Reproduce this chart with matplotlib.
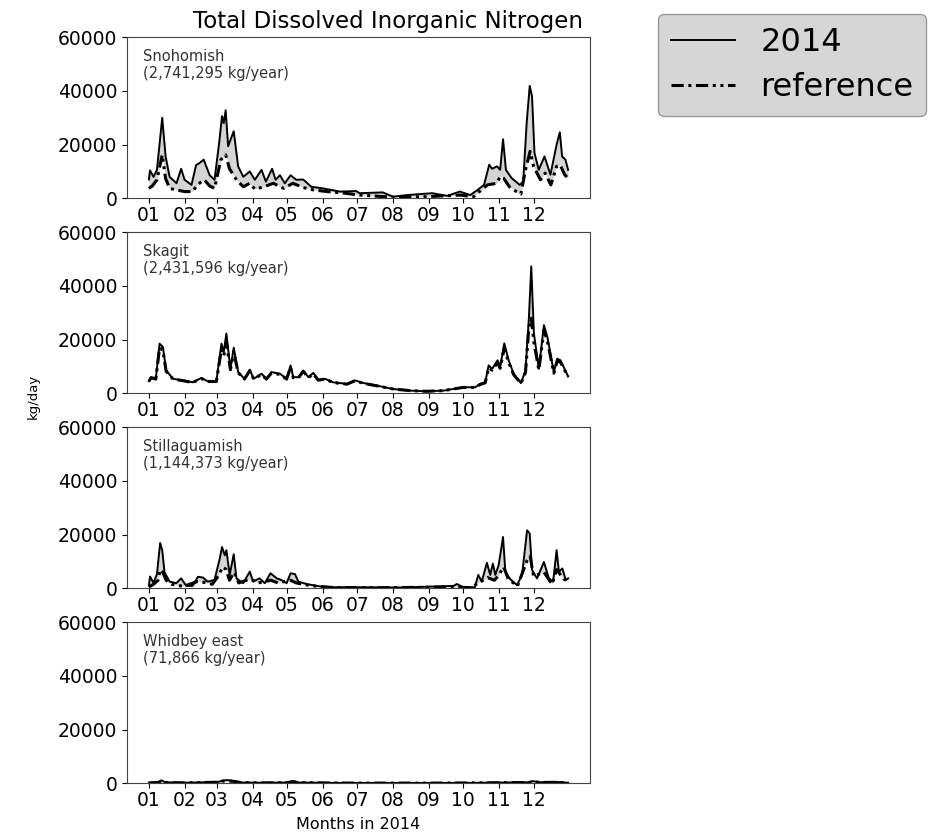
import numpy as np
import matplotlib
matplotlib.use('Agg')
from matplotlib import pyplot as plt
import matplotlib.dates as mdates
from matplotlib.lines import Line2D

# day-of-year (0 = 2014-01-01) and kg/day values
sno_days = [0, 1, 4, 7, 11.6, 14.5, 18, 24, 28, 31, 37, 41, 43.5, 47.6, 52.8, 57, 61, 63.5, 65, 66.7,
            68.8, 73.7, 77.5, 82, 87.6, 92, 97.8, 101.6, 107, 110, 113.8, 118, 123, 128, 134, 141, 151,
            166, 180, 183, 203, 212, 224, 246, 259, 270, 279, 285, 291, 295.5, 298, 302.3, 305, 307.5,
            310, 315, 322, 325, 328, 330.7, 332.7, 334.8, 338.5, 343.5, 348.7, 354, 356.8, 358.8, 361.7, 364]
sno_2014 = [7000, 10400, 8000, 10600, 30000, 15600, 8000, 5600, 11000, 6900, 5000, 12400, 13000, 14400,
            8600, 6900, 20600, 30600, 28000, 32800, 19400, 25000, 11900, 8000, 10000, 6900, 10600, 6200,
            11000, 6900, 8600, 5600, 8600, 6900, 7000, 4300, 3700, 2500, 2700, 1900, 2200, 600, 1200,
            1900, 900, 2500, 1200, 3000, 5000, 12500, 11000, 11900, 10600, 22000, 10600, 7500, 5000,
            6200, 28000, 41900, 38000, 16900, 10600, 15600, 8800, 20000, 24600, 15600, 14400, 10600]
sno_ref_days = [0, 3, 7, 11.6, 14.5, 18, 24, 31, 38, 42, 48, 52.8, 57, 62.5, 66.7, 70, 76, 82, 87.6, 92,
                100, 108, 117, 125, 134, 143, 155, 170, 183, 212, 241, 270, 282, 287, 294, 302, 305, 308,
                313, 318, 323, 327, 331, 334, 340, 344, 349, 354, 357, 361, 364]
sno_ref = [3700, 4600, 6900, 16200, 7400, 3700, 3100, 2500, 2500, 5000, 6900, 4600, 3700, 14400, 16200,
           11000, 6900, 4300, 5600, 3400, 4300, 5600, 3700, 5600, 4000, 3100, 2500, 1900, 1200, 400,
           600, 1200, 600, 2500, 5000, 5600, 8100, 7500, 4300, 2800, 1600, 10600, 17500, 11900, 6900,
           9400, 5000, 11900, 12500, 8800, 7500]

ska_days = [0, 2, 6, 9.3, 12.2, 15, 21, 29.6, 38, 45.6, 51, 58.6, 63, 65, 67.3, 70.8, 73.7, 77.5, 83,
            87.6, 91, 97.8, 102, 106.5, 113.8, 119.6, 123, 125.4, 130, 134, 138.5, 142.8, 147, 153, 160,
            172, 179, 186.5, 197.7, 212, 226.7, 241, 256, 273, 283.4, 287.7, 292, 295, 298, 302.8, 305,
            308.6, 312.4, 316.7, 323, 327, 330, 332, 334.3, 338.6, 343, 346, 351.6, 354.5, 357.4, 364]
ska_2014 = [4500, 6000, 5400, 18500, 17300, 8500, 5400, 4800, 4100, 5700, 4500, 4500, 18500, 15400,
            22300, 9100, 17000, 7900, 5400, 8800, 5400, 7300, 5400, 7900, 7300, 5400, 10400, 6000, 6000,
            8500, 6000, 7600, 5000, 5400, 4100, 3500, 4800, 3800, 2900, 1600, 1000, 750, 1000, 2250,
            2250, 3500, 4100, 10400, 9100, 12300, 9800, 18600, 12300, 7300, 3800, 8500, 28500, 47300,
            22300, 9100, 25400, 21000, 7900, 12900, 12300, 6300]
ska_ref = [4500, 5800, 5300, 17000, 16000, 8200, 5300, 4700, 4000, 5500, 4400, 4400, 16500, 14000,
           19000, 8800, 15500, 7700, 5300, 8400, 5300, 7000, 5300, 7600, 7000, 5300, 9600, 5800, 5800,
           8200, 5800, 7300, 4900, 5300, 4000, 3400, 4700, 3700, 2800, 1600, 1000, 750, 1000, 2200,
           2200, 3300, 3900, 9500, 8600, 11500, 9300, 17000, 11500, 7000, 3700, 7800, 25000, 28000,
           19000, 8700, 23500, 19500, 7500, 12000, 11600, 6200]

sti_days = [0, 1, 4, 7, 9.8, 11.6, 13.6, 18, 23.8, 28, 32.5, 38, 42.6, 47, 51, 57, 61.5, 63.5, 65.9,
            67.3, 70.2, 73.7, 76, 81.9, 87.6, 90.5, 96, 100.7, 105.6, 111, 115, 119.6, 123, 126.8,
            129.8, 137, 145.7, 154, 180, 220, 264.5, 267.4, 273, 283, 286, 289, 293.5, 296.4, 298.7,
            300.8, 303.7, 307.5, 309.5, 313.8, 319.6, 324, 328.4, 330.7, 332.7, 337, 343, 347.3, 351,
            354, 356, 359, 362, 364]
sti_2014 = [1000, 4400, 2000, 5300, 16900, 14200, 5900, 2500, 1900, 3700, 900, 900, 4300, 4000, 2500,
            3100, 11000, 15400, 12300, 14200, 5000, 12700, 3700, 1900, 6200, 2500, 3700, 1900, 5600,
            3700, 3100, 1900, 5600, 5300, 2500, 1600, 900, 400, 400, 300, 900, 1600, 400, 400, 5000,
            2500, 9500, 5000, 9200, 5000, 8600, 19100, 6200, 3400, 1200, 5000, 21600, 20400, 6800,
            3700, 9800, 3700, 2500, 14200, 6200, 7400, 3100, 3700]
sti_ref_days = [0, 4, 8, 10, 12, 15, 20, 30, 42, 48, 55, 61, 64, 67, 70, 74, 78, 88, 95, 106, 112, 123,
                128, 140, 160, 200, 265, 280, 286, 294, 300, 304, 308, 312, 320, 328, 331, 334, 343,
                350, 354, 360, 364]
sti_ref = [500, 1500, 3000, 7000, 6000, 3000, 1500, 700, 2500, 2200, 1500, 5000, 8000, 7000, 3000,
           6000, 2000, 3500, 2000, 3000, 2000, 3000, 2000, 1000, 300, 200, 500, 200, 2000, 4000, 3000,
           5000, 8000, 3500, 800, 10000, 12000, 4500, 6000, 1500, 7000, 3500, 2500]

whi_days = [0, 8, 11, 14, 30, 60, 64, 68, 74, 80, 100, 120, 125, 130, 160, 200, 250, 290, 310, 330,
            333, 340, 355, 364]
whi_2014 = [200, 400, 1100, 400, 200, 500, 1000, 1200, 900, 300, 200, 300, 800, 300, 150, 100, 100,
            200, 300, 400, 800, 400, 500, 200]
whi_ref = [150, 300, 800, 300, 150, 400, 800, 900, 700, 250, 150, 250, 600, 250, 100, 80, 80, 150,
           250, 300, 600, 300, 400, 150]

panels = [
    ('Snohomish\n(2,741,295 kg/year)', sno_days, sno_2014, sno_ref_days, sno_ref),
    ('Skagit\n(2,431,596 kg/year)', ska_days, ska_2014, ska_days, ska_ref),
    ('Stillaguamish\n(1,144,373 kg/year)', sti_days, sti_2014, sti_ref_days, sti_ref),
    ('Whidbey east\n(71,866 kg/year)', whi_days, whi_2014, whi_days, whi_ref),
]

ref_style = (0, (4, 1.5, 1, 1.5, 4, 1.5, 1, 1.5, 1, 1.5))
start = np.datetime64('2014-01-01')
full = np.arange(0, 365)
month_starts = [np.datetime64('2014-%02d-01' % m) for m in range(1, 13)]


def to_dates(days):
    return start + (np.array(days) * 24).astype('timedelta64[h]')


fig = plt.figure(figsize=(9.46, 8.36), dpi=100)

W, H = 946, 836
for i, (label, d1, v1, d2, v2) in enumerate(panels):
    bottom_px = 198.3 + 195 * i
    ax = fig.add_axes([127 / W, 1 - bottom_px / H, 463 / W, 161 / H])
    # both series on a common day axis for the shaded band
    a = np.interp(full, d1, v1)
    b = np.interp(full, d2, v2)
    ax.fill_between(to_dates(full), a, b, color='#d4d4d4', lw=0)
    ax.plot(to_dates(d2), v2, color='black', lw=2.2, linestyle=ref_style)
    ax.plot(to_dates(d1), v1, color='black', lw=1.4)
    ax.set_ylim(0, 60000)
    ax.set_yticks([0, 20000, 40000, 60000])
    ax.set_xlim(start - np.timedelta64(19, 'D'), start + np.timedelta64(383, 'D'))
    ax.set_xticks(month_starts)
    ax.xaxis.set_major_formatter(mdates.DateFormatter('%m'))
    ax.tick_params(labelsize=13.5, colors='black')
    ax.tick_params(axis='x', pad=2)
    for s in ax.spines.values():
        s.set_color('#444444')
    ax.text(0.035, 0.93, label, transform=ax.transAxes, va='top', ha='left', fontsize=10.5,
            color='#333333', bbox=dict(facecolor='white', alpha=0.8, edgecolor='none', pad=1))
    if i == 3:
        ax.set_xlabel('Months in 2014', fontsize=11.5, labelpad=5)

fig.text(388 / W, 1 - 28 / H, 'Total Dissolved Inorganic Nitrogen', ha='center', va='baseline', fontsize=16.5)
fig.text(33 / W, 1 - 396 / H, 'kg/day', rotation=90, ha='center', va='center', fontsize=9.5)

handles = [Line2D([], [], color='black', lw=1.4),
           Line2D([], [], color='black', lw=2.2, linestyle=ref_style)]
fig.legend(handles, ['2014', 'reference'], loc='upper left', bbox_to_anchor=(658 / W, 1 - 14 / H),
           borderaxespad=0, fontsize=23, facecolor='#d6d6d6', edgecolor='#999999', framealpha=1,
           handlelength=2.0, labelspacing=0.45)

plt.savefig('out.png', dpi=100)
